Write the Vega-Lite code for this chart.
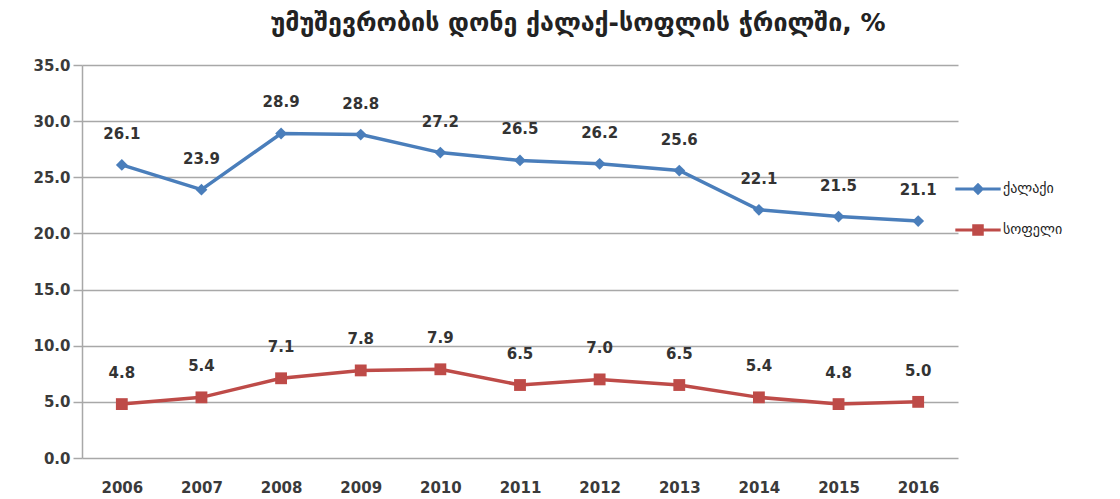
{
  "$schema": "https://vega.github.io/schema/vega-lite/v6.json",
  "autosize": {"type": "none"},
  "width": 876,
  "height": 393,
  "padding": {"left": 82, "top": 65, "right": 162, "bottom": 41},
  "background": "white",
  "config": {
    "font": "DejaVu Sans",
    "view": {"stroke": null},
    "axis": {"labelFont": "DejaVu Sans", "labelFontWeight": "bold", "labelFontSize": 15, "labelColor": "#3a3a3a"}
  },
  "title": {
    "text": "უმუშევრობის დონე ქალაქ-სოფლის ჭრილში, %",
    "font": "DejaVu Sans",
    "fontSize": 25,
    "fontWeight": "bold",
    "color": "#222222",
    "anchor": "middle",
    "dx": 58,
    "offset": 22
  },
  "data": {
    "values": [
      {"year": "2006", "series": "ქალაქი", "value": 26.1},
      {"year": "2007", "series": "ქალაქი", "value": 23.9},
      {"year": "2008", "series": "ქალაქი", "value": 28.9},
      {"year": "2009", "series": "ქალაქი", "value": 28.8},
      {"year": "2010", "series": "ქალაქი", "value": 27.2},
      {"year": "2011", "series": "ქალაქი", "value": 26.5},
      {"year": "2012", "series": "ქალაქი", "value": 26.2},
      {"year": "2013", "series": "ქალაქი", "value": 25.6},
      {"year": "2014", "series": "ქალაქი", "value": 22.1},
      {"year": "2015", "series": "ქალაქი", "value": 21.5},
      {"year": "2016", "series": "ქალაქი", "value": 21.1},
      {"year": "2006", "series": "სოფელი", "value": 4.8},
      {"year": "2007", "series": "სოფელი", "value": 5.4},
      {"year": "2008", "series": "სოფელი", "value": 7.1},
      {"year": "2009", "series": "სოფელი", "value": 7.8},
      {"year": "2010", "series": "სოფელი", "value": 7.9},
      {"year": "2011", "series": "სოფელი", "value": 6.5},
      {"year": "2012", "series": "სოფელი", "value": 7.0},
      {"year": "2013", "series": "სოფელი", "value": 6.5},
      {"year": "2014", "series": "სოფელი", "value": 5.4},
      {"year": "2015", "series": "სოფელი", "value": 4.8},
      {"year": "2016", "series": "სოფელი", "value": 5.0}
    ]
  },
  "encoding": {
    "x": {
      "field": "year", "type": "ordinal",
      "scale": {"type": "point", "padding": 0.5},
      "axis": {"title": null, "labelAngle": 0, "domain": false, "ticks": false, "grid": false, "labelPadding": 22}
    },
    "y": {
      "field": "value", "type": "quantitative",
      "scale": {"domain": [0, 35], "nice": false, "zero": true},
      "axis": {
        "title": null, "values": [0, 5, 10, 15, 20, 25, 30, 35], "format": ".1f",
        "grid": true, "gridColor": "#a8a8a8", "gridWidth": 1.5,
        "domain": true, "domainColor": "#a8a8a8", "domainWidth": 1.5,
        "ticks": true, "tickSize": 9, "tickColor": "#a8a8a8", "tickWidth": 1.5,
        "labelPadding": 3
      }
    }
  },
  "layer": [
    {
      "mark": {"type": "line", "strokeWidth": 3.5},
      "encoding": {
        "color": {
          "field": "series", "type": "nominal",
          "scale": {"domain": ["ქალაქი", "სოფელი"], "range": ["#4a7ebb", "#be4b48"]},
          "legend": {
            "title": null,
            "orient": "none",
            "legendX": 875,
            "legendY": 103,
            "symbolSize": 1700,
            "rowPadding": 13,
            "labelOffset": 4,
            "labelFont": "DejaVu Sans",
            "labelFontSize": 14,
            "labelColor": "#222222",
            "encode": {
              "symbols": {
                "update": {
                  "shape": {"signal": "datum.value === 'ქალაქი' ? 'M-1.1,-0.07L1.1,-0.07L1.1,0.07L-1.1,0.07Z M0,-0.3L0.3,0L0,0.3L-0.3,0Z' : 'M-1.1,-0.07L1.1,-0.07L1.1,0.07L-1.1,0.07Z M-0.28,-0.28L0.28,-0.28L0.28,0.28L-0.28,0.28Z'"},
                  "fill": {"signal": "datum.value === 'ქალაქი' ? '#4a7ebb' : '#be4b48'"},
                  "strokeWidth": {"value": 0},
                  "opacity": {"value": 1}
                }
              }
            }
          }
        }
      }
    },
    {
      "transform": [{"filter": "datum.series === 'ქალაქი'"}],
      "mark": {"type": "point", "filled": true, "size": 140, "opacity": 1, "shape": "diamond", "color": "#4a7ebb"}
    },
    {
      "transform": [{"filter": "datum.series === 'სოფელი'"}],
      "mark": {"type": "point", "filled": true, "size": 140, "opacity": 1, "shape": "square", "color": "#be4b48"}
    },
    {
      "mark": {"type": "text", "dy": -31, "fontSize": 15, "fontWeight": "bold", "font": "DejaVu Sans", "color": "#333333"},
      "encoding": {
        "text": {"field": "value", "type": "quantitative", "format": ".1f"}
      }
    }
  ]
}
